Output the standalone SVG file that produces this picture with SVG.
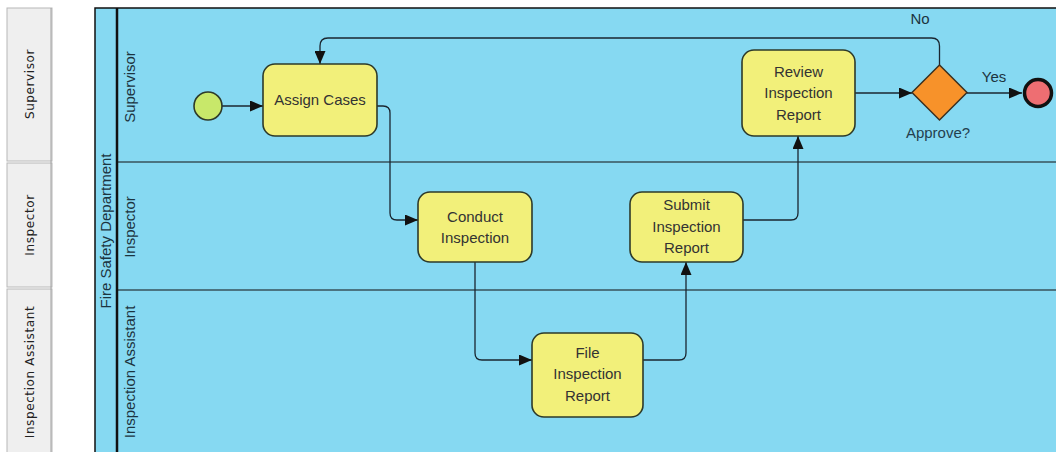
<svg xmlns="http://www.w3.org/2000/svg" width="1056" height="452" viewBox="0 0 1056 452">
<defs>
<marker id="arr" viewBox="0 0 13 11" refX="13" refY="5.5" markerWidth="13" markerHeight="11" markerUnits="userSpaceOnUse" orient="auto">
<path d="M0,0 L13,5.5 L0,11 Z" fill="#111"/>
</marker>
<style>
.tab{fill:#efefef;stroke:#b8b8b8;stroke-width:1}
.tabt{font-family:"DejaVu Sans",sans-serif;font-size:12px;fill:#222;letter-spacing:0.6px;text-anchor:middle}
.lbl{font-family:"Liberation Sans",Arial,sans-serif;font-size:15px;fill:#1c3440;text-anchor:middle}
.task{fill:#f2f07a;stroke:#2d3a2a;stroke-width:1.6}
.tt{font-family:"Liberation Sans",Arial,sans-serif;font-size:15px;fill:#333;text-anchor:middle}
.conn{fill:none;stroke:#1a2630;stroke-width:1.3;marker-end:url(#arr)}
</style>
</defs>
<rect width="1056" height="452" fill="#ffffff"/>
<g id="tabs">
<rect class="tab" x="7" y="8" width="45" height="153"/>
<rect class="tab" x="7" y="163" width="45" height="124"/>
<rect class="tab" x="7" y="289" width="45" height="170"/>
<line x1="51" y1="8" x2="51" y2="452" stroke="#a0a0a0" stroke-width="1"/>
<text class="tabt" transform="translate(34,84) rotate(-90)">Supervisor</text>
<text class="tabt" transform="translate(34,225) rotate(-90)">Inspector</text>
<text class="tabt" transform="translate(34,372) rotate(-90)">Inspection Assistant</text>
</g>
<g id="pool">
<rect x="95" y="8" width="970" height="460" fill="#86d9f2" stroke="#111" stroke-width="1.5"/>
<line x1="117" y1="8" x2="117" y2="452" stroke="#111" stroke-width="2.5"/>
<line x1="117" y1="162" x2="1056" y2="162" stroke="#111" stroke-width="1.2"/>
<line x1="117" y1="290" x2="1056" y2="290" stroke="#111" stroke-width="1.2"/>
<text class="lbl" transform="translate(111,231) rotate(-90)">Fire Safety Department</text>
<text class="lbl" transform="translate(135,87) rotate(-90)">Supervisor</text>
<text class="lbl" transform="translate(135,227) rotate(-90)">Inspector</text>
<text class="lbl" transform="translate(135,372) rotate(-90)">Inspection Assistant</text>
</g>
<g id="connectors">
<path class="conn" d="M222,106 L263,106"/>
<path class="conn" d="M377,106 L383,106 Q390,106 390,113 L390,213 Q390,220 397,220 L418,220"/>
<path class="conn" d="M475,262 L475,353 Q475,360 482,360 L532,360"/>
<path class="conn" d="M643,360 L679,360 Q686,360 686,353 L686,262"/>
<path class="conn" d="M743,220 L791,220 Q798,220 798,213 L798,136"/>
<path class="conn" d="M855,93 L912,93"/>
<path class="conn" d="M967,93 L1022,93"/>
<path class="conn" d="M939.5,65 L939.5,46 Q939.5,38 931.5,38 L328,38 Q320,38 320,46 L320,64"/>
<text class="lbl" x="920" y="24">No</text>
<text class="lbl" x="994" y="82">Yes</text>
</g>
<g id="start">
<circle cx="208" cy="106" r="14" fill="#c8e86a" stroke="#2d3a2a" stroke-width="1.6"/>
</g>
<g id="assign">
<rect class="task" x="263" y="64" width="114" height="72" rx="12"/>
<text class="tt" x="320" y="105">Assign Cases</text>
</g>
<g id="conduct">
<rect class="task" x="418" y="192" width="114" height="70" rx="12"/>
<text class="tt" x="475" y="222">Conduct</text>
<text class="tt" x="475" y="243">Inspection</text>
</g>
<g id="file">
<rect class="task" x="532" y="333" width="111" height="84" rx="12"/>
<text class="tt" x="587.5" y="358">File</text>
<text class="tt" x="587.5" y="379">Inspection</text>
<text class="tt" x="587.5" y="401">Report</text>
</g>
<g id="submit">
<rect class="task" x="630" y="192" width="113" height="70" rx="12"/>
<text class="tt" x="686.5" y="210">Submit</text>
<text class="tt" x="686.5" y="232">Inspection</text>
<text class="tt" x="686.5" y="253">Report</text>
</g>
<g id="review">
<rect class="task" x="742" y="50" width="113" height="86" rx="12"/>
<text class="tt" x="798.5" y="77">Review</text>
<text class="tt" x="798.5" y="98">Inspection</text>
<text class="tt" x="798.5" y="120">Report</text>
</g>
<g id="gateway">
<path d="M939.5,65 L967,92.5 L939.5,120 L912,92.5 Z" fill="#f7922a" stroke="#3a3020" stroke-width="1.5"/>
<text class="lbl" x="938" y="138" style="fill:#24404e">Approve?</text>
</g>
<g id="end">
<circle cx="1038" cy="93" r="13.5" fill="#ee6e72" stroke="#111" stroke-width="3.5"/>
</g>
</svg>
